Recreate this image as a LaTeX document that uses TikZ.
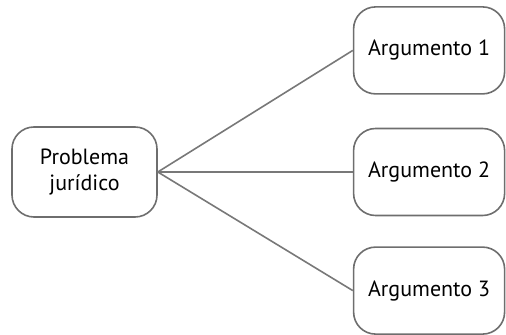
\documentclass[tikz,border=0pt]{standalone}
\usepackage{fontspec}
\setmainfont{PT Sans}
\usepackage{tikz}
\usetikzlibrary{positioning}
\definecolor{boxline}{RGB}{110,110,110}
\definecolor{linkgray}{RGB}{120,120,120}

\begin{document}
\begin{tikzpicture}[x=0.5pt, y=-0.5pt, every node/.style={align=center, font=\fontsize{11}{13}\selectfont}]
  \useasboundingbox (0,0) rectangle (506,335);
  \tikzset{argbox/.style={draw=boxline, line width=0.8pt, rounded corners=11pt, minimum width=75.5pt, minimum height=43.5pt}}
  \node[argbox, minimum width=72.5pt, minimum height=45pt] (PJ) at (84.5,172) {Problema\\jurídico};
  \node[argbox, right=97.5pt of PJ] (A2) {Argumento 2};
  \node[argbox, above=16.5pt of A2] (A1) {Argumento 1};
  \node[argbox, below=15pt of A2] (A3) {Argumento 3};

  \draw[linkgray, line width=0.8pt] (PJ.east) -- (A1.west);
  \draw[linkgray, line width=0.8pt] (PJ.east) -- (A2.west);
  \draw[linkgray, line width=0.8pt] (PJ.east) -- (A3.west);
\end{tikzpicture}
\end{document}
